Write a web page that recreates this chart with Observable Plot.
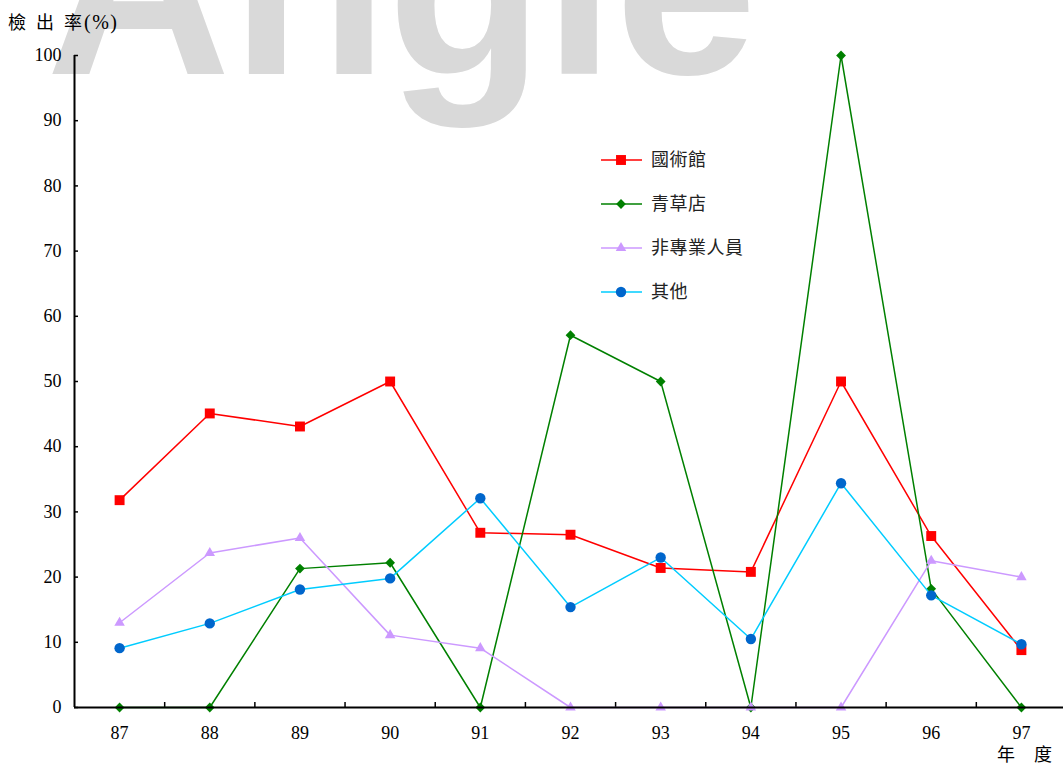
<!DOCTYPE html>
<html>
<head>
<meta charset="utf-8">
<script src="https://cdn.jsdelivr.net/npm/d3@7"></script>
<script src="https://cdn.jsdelivr.net/npm/@observablehq/plot@0.6"></script>
<style>
  html, body { margin: 0; padding: 0; background: #fff; }
  #chart { position: relative; width: 1063px; height: 763px; overflow: hidden; }
</style>
</head>
<body>
<div id="chart"></div>
<script>
// 年度 (民國)
const years = [87, 88, 89, 90, 91, 92, 93, 94, 95, 96, 97];

// 檢出率 (%) per source
const guoshuguan  = [31.8, 45.1, 43.1, 50.0, 26.8, 26.5, 21.4, 20.8, 50.0, 26.3, 8.8];
const qingcaodian = [0, 0, 21.3, 22.2, 0, 57.1, 50.0, 0, 100, 18.2, 0];
const feizhuanye  = [13.0, 23.7, 26.0, 11.1, 9.1, 0, 0, 0, 0, 22.5, 20.0];
const qita        = [9.1, 12.9, 18.1, 19.8, 32.1, 15.4, 23.0, 10.5, 34.4, 17.2, 9.7];

const seriesNames = ["國術館", "青草店", "非專業人員", "其他"];
const yTicks = [0, 10, 20, 30, 40, 50, 60, 70, 80, 90, 100];

// Drawing styles for each series (line colour, marker colour, marker shape, marker radius)
const styles = [
  {line: "#ff0000", fill: "#ff0000", symbol: "square",   d3symbol: d3.symbolSquare,   r: 5.6},
  {line: "#008000", fill: "#008000", symbol: "diamond2", d3symbol: d3.symbolDiamond2, r: 4.4},
  {line: "#cc99ff", fill: "#cc99ff", symbol: "triangle", d3symbol: d3.symbolTriangle, r: 3.9},
  {line: "#00ccff", fill: "#0066cc", symbol: "circle",   d3symbol: d3.symbolCircle,   r: 5.2}
];

const seriesValues = [guoshuguan, qingcaodian, feizhuanye, qita];
const seriesRows = seriesValues.map((vals, s) =>
  years.map((yr, i) => ({series: seriesNames[s], year: yr, value: vals[i]}))
);

// Tick marks on the x axis sit between the year categories
const xBoundaries = years.slice(0, -1).map(y => y + 0.5);

const serif = "'Liberation Serif', 'Times New Roman', 'Noto Sans CJK TC', serif";
const cjk = "'Noto Sans CJK TC', 'Noto Sans CJK SC', sans-serif";

const seriesMarks = seriesRows.flatMap((rows, s) => [
  Plot.line(rows, {x: "year", y: "value", stroke: styles[s].line, strokeWidth: 1.5}),
  Plot.dot(rows, {x: "year", y: "value", symbol: styles[s].symbol, r: styles[s].r,
                  fill: styles[s].fill, stroke: "none"})
]);

const chart = Plot.plot({
  width: 1063,
  height: 763,
  marginLeft: 74,
  marginRight: 0,
  marginTop: 55,
  marginBottom: 56,
  x: {domain: [86.5, 97.5], range: [74, 1066]},
  y: {domain: [0, 100], range: [707, 55]},
  style: {fontFamily: serif, fontSize: "18px", color: "#000", background: "transparent", overflow: "visible"},
  marks: [
    Plot.axisY({ticks: yTicks, tickSize: 0, tickPadding: 13, label: null, fontSize: 18}),
    Plot.axisX({ticks: years, tickSize: 0, tickPadding: 19, label: null, tickFormat: d => String(d), fontSize: 18}),
    // inward tick marks
    Plot.ruleY(yTicks, {y: d => d, x1: () => 86.5, x2: () => 86.5, insetRight: -4, stroke: "#000", strokeWidth: 1.5}),
    Plot.ruleX(xBoundaries, {x: d => d, y1: () => 0, y2: () => 0, insetTop: -5, stroke: "#000", strokeWidth: 1.5}),
    ...seriesMarks,
    // axis lines
    Plot.ruleX([86.5], {stroke: "#000", strokeWidth: 2}),
    Plot.ruleY([0], {stroke: "#000", strokeWidth: 2})
  ]
});

document.getElementById("chart").appendChild(chart);

const svg = d3.select(chart);

// Background watermark
svg.insert("text", ":first-child")
  .attr("x", 46)
  .attr("y", 74)
  .attr("text-anchor", "start")
  .attr("font-family", "'Liberation Sans', Arial, sans-serif")
  .attr("font-weight", "bold")
  .attr("font-size", 256)
  .attr("fill", "#d9d9d9")
  .attr("filter", "url(#soft)")
  .text("Angle");
const defs = svg.insert("defs", ":first-child");
defs.append("filter").attr("id", "soft")
  .append("feGaussianBlur").attr("stdDeviation", 0.7);

// Y axis title
const yTitle = svg.append("text")
  .attr("x", 8)
  .attr("y", 29)
  .attr("text-anchor", "start")
  .attr("font-size", 18)
  .attr("fill", "#000");
yTitle.append("tspan").attr("font-family", cjk).attr("letter-spacing", 10).text("檢出");
yTitle.append("tspan").attr("font-family", cjk).text("率");
yTitle.append("tspan").attr("font-family", serif).attr("font-size", 20).attr("letter-spacing", 1.5).attr("dx", 2).text("(%)");

// X axis unit
svg.append("text")
  .attr("x", 997)
  .attr("y", 755)
  .attr("dy", "0.35em")
  .attr("text-anchor", "start")
  .attr("font-family", cjk)
  .attr("font-size", 18)
  .attr("letter-spacing", 19)
  .attr("fill", "#000")
  .text("年度");

// Legend
const legend = svg.append("g");
seriesNames.forEach((name, i) => {
  const st = styles[i];
  const g = legend.append("g").attr("transform", `translate(0,${160 + i * 44})`);
  g.append("line").attr("x1", 601).attr("x2", 642).attr("y1", 0).attr("y2", 0)
    .attr("stroke", st.line).attr("stroke-width", 1.5);
  g.append("path")
    .attr("transform", "translate(621,0)")
    .attr("d", d3.symbol().type(st.d3symbol).size(Math.PI * st.r * st.r)())
    .attr("fill", st.fill);
  g.append("text")
    .attr("x", 651).attr("y", 0).attr("dy", "0.35em")
    .attr("text-anchor", "start")
    .attr("font-family", cjk).attr("font-size", 18).attr("letter-spacing", 0.5)
    .attr("fill", "#222")
    .text(name);
});
</script>
</body>
</html>
